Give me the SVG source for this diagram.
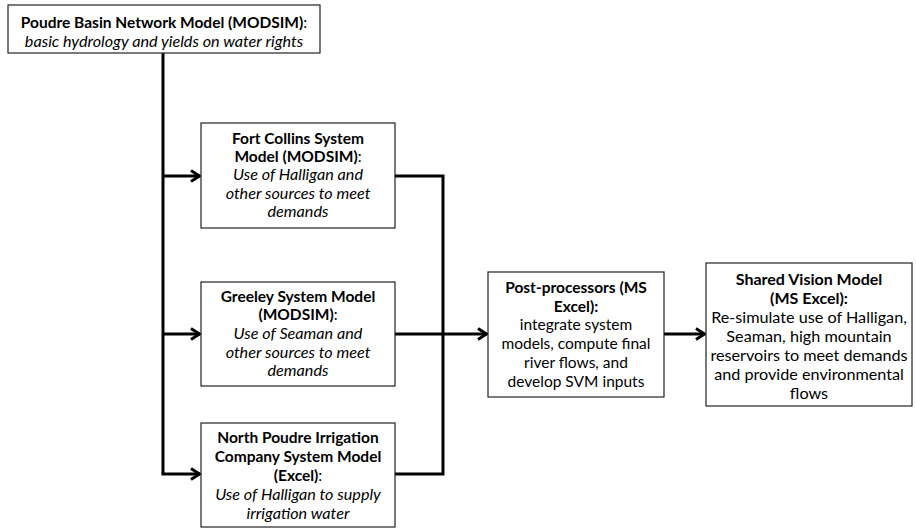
<svg xmlns="http://www.w3.org/2000/svg" width="916" height="529" viewBox="0 0 916 529">
<defs>
<marker id="arr" markerUnits="userSpaceOnUse" viewBox="0 0 12 14" refX="11" refY="7" markerWidth="12" markerHeight="14" orient="auto">
<polyline points="2,1.5 10.5,7 2,12.5" fill="none" stroke="#000" stroke-width="3"/>
</marker>
</defs>
<style>
.box{fill:#fff;stroke:#222;stroke-width:1.2}
text{font-family:Lato,"Noto Sans",sans-serif;font-size:15.5px;fill:#000;text-anchor:middle}
.b{font-weight:bold}
.i{font-style:italic;font-size:16.2px}
.s{font-size:16.2px}
.sb{font-size:16px;font-weight:bold}
.c{fill:none;stroke:#000;stroke-width:3}
</style>
<g id="connectors">
<polyline class="c" points="163,53 163,474"/>
<line class="c" x1="163" y1="176" x2="200" y2="176" marker-end="url(#arr)"/>
<line class="c" x1="163" y1="334" x2="200" y2="334" marker-end="url(#arr)"/>
<line class="c" x1="161.5" y1="474" x2="200" y2="474" marker-end="url(#arr)"/>
<polyline class="c" points="395,176 443,176 443,474 395,474"/>
<line class="c" x1="395" y1="334" x2="487" y2="334" marker-end="url(#arr)"/>
<line class="c" x1="664" y1="334" x2="705" y2="334" marker-end="url(#arr)"/>
</g>
<g id="poudre">
<rect class="box" x="8" y="5" width="312" height="48"/>
<text x="164" y="28"><tspan class="b">Poudre Basin Network Model (MODSIM)</tspan>:</text>
<text x="164" y="47" class="i">basic hydrology and yields on water rights</text>
</g>
<g id="fortcollins">
<rect class="box" x="201" y="123" width="194" height="105"/>
<text x="298" y="144" class="b">Fort Collins System</text>
<text x="298" y="162"><tspan class="b">Model (MODSIM)</tspan>:</text>
<text x="298" y="180" class="i">Use of Halligan and</text>
<text x="298" y="199" class="i">other sources to meet</text>
<text x="298" y="217" class="i">demands</text>
</g>
<g id="greeley">
<rect class="box" x="201" y="282" width="194" height="104"/>
<text x="298" y="302" class="b">Greeley System Model</text>
<text x="298" y="320"><tspan class="b">(MODSIM)</tspan>:</text>
<text x="298" y="339" class="i">Use of Seaman and</text>
<text x="298" y="358" class="i">other sources to meet</text>
<text x="298" y="376" class="i">demands</text>
</g>
<g id="npic">
<rect class="box" x="201" y="423" width="194" height="104"/>
<text x="298" y="443" class="b">North Poudre Irrigation</text>
<text x="298" y="462" class="b">Company System Model</text>
<text x="298" y="481"><tspan class="b">(Excel)</tspan>:</text>
<text x="298" y="500" class="i">Use of Halligan to supply</text>
<text x="298" y="519" class="i">irrigation water</text>
</g>
<g id="post">
<rect class="box" x="488" y="272" width="176" height="125"/>
<text x="576" y="293" class="b">Post-processors (MS</text>
<text x="576" y="312" class="b">Excel):</text>
<text x="576" y="330">integrate system</text>
<text x="576" y="349">models, compute final</text>
<text x="576" y="368">river flows, and</text>
<text x="576" y="387">develop SVM inputs</text>
</g>
<g id="svm">
<rect class="box" x="706" y="263" width="206" height="143"/>
<text x="809" y="285" class="sb">Shared Vision Model</text>
<text x="809" y="304" class="sb">(MS Excel):</text>
<text x="809" y="323" class="s">Re-simulate use of Halligan,</text>
<text x="809" y="342" class="s">Seaman, high mountain</text>
<text x="809" y="361" class="s">reservoirs to meet demands</text>
<text x="809" y="380" class="s">and provide environmental</text>
<text x="809" y="399" class="s">flows</text>
</g>
</svg>
